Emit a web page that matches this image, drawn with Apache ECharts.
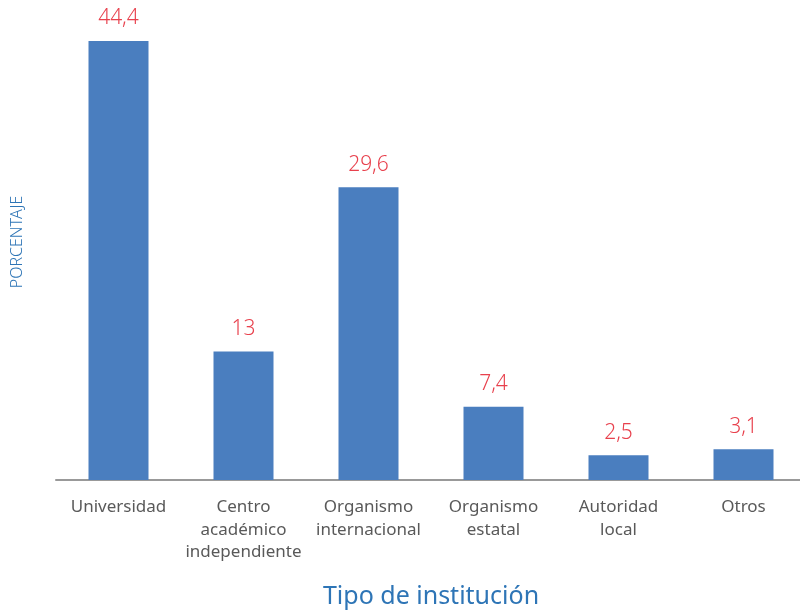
<!DOCTYPE html>
<html><head><meta charset="utf-8">
<script src="https://cdn.jsdelivr.net/npm/echarts@6/dist/echarts.min.js"></script>
<style>html,body{margin:0;padding:0;background:#fff}#c{width:800px;height:612px}</style>
</head><body><div id="c"></div>
<script>
const categories = ['Universidad', 'Centro\nacadémico\nindependiente', 'Organismo\ninternacional', 'Organismo\nestatal', 'Autoridad\nlocal', 'Otros'];
const values = [44.4, 13, 29.6, 7.4, 2.5, 3.1];
const xTitle = 'Tipo de institución';
const yTitle = 'PORCENTAJE';

const chart = echarts.init(document.getElementById('c'));
chart.setOption({
  animation: false,
  textStyle: { fontFamily: 'Noto Sans' },
  grid: { left: 56, right: -6, top: 41, bottom: 132, outerBoundsMode: 'none', containLabel: false },
  graphic: [{
    type: 'text', x: 17, y: 242, rotation: Math.PI / 2,
    style: { text: yTitle, fill: '#2e75b6', fontSize: 16, fontWeight: 300, fontFamily: 'Noto Sans',
             align: 'center', verticalAlign: 'middle' }
  }],
  xAxis: {
    type: 'category', data: categories,
    axisLine: { lineStyle: { color: '#999999', width: 2 } },
    axisTick: { show: false },
    axisLabel: { color: '#595959', fontSize: 17, lineHeight: 22.5, margin: 16, interval: 0 },
    name: xTitle, nameLocation: 'middle', nameGap: 104,
    nameTextStyle: { color: '#2e75b6', fontSize: 25 }
  },
  yAxis: {
    type: 'value', min: 0, max: 44.4,
    axisLine: { show: false }, axisTick: { show: false }, axisLabel: { show: false },
    splitLine: { show: false }
  },
  series: [{
    type: 'bar', data: values, barWidth: 60,
    itemStyle: { color: '#4a7ebf' },
    label: {
      show: true, position: 'top', distance: 12,
      color: '#e8414d', fontSize: 21, fontWeight: 300,
      formatter: p => String(p.value).replace('.', ',')
    }
  }]
});
</script></body></html>
